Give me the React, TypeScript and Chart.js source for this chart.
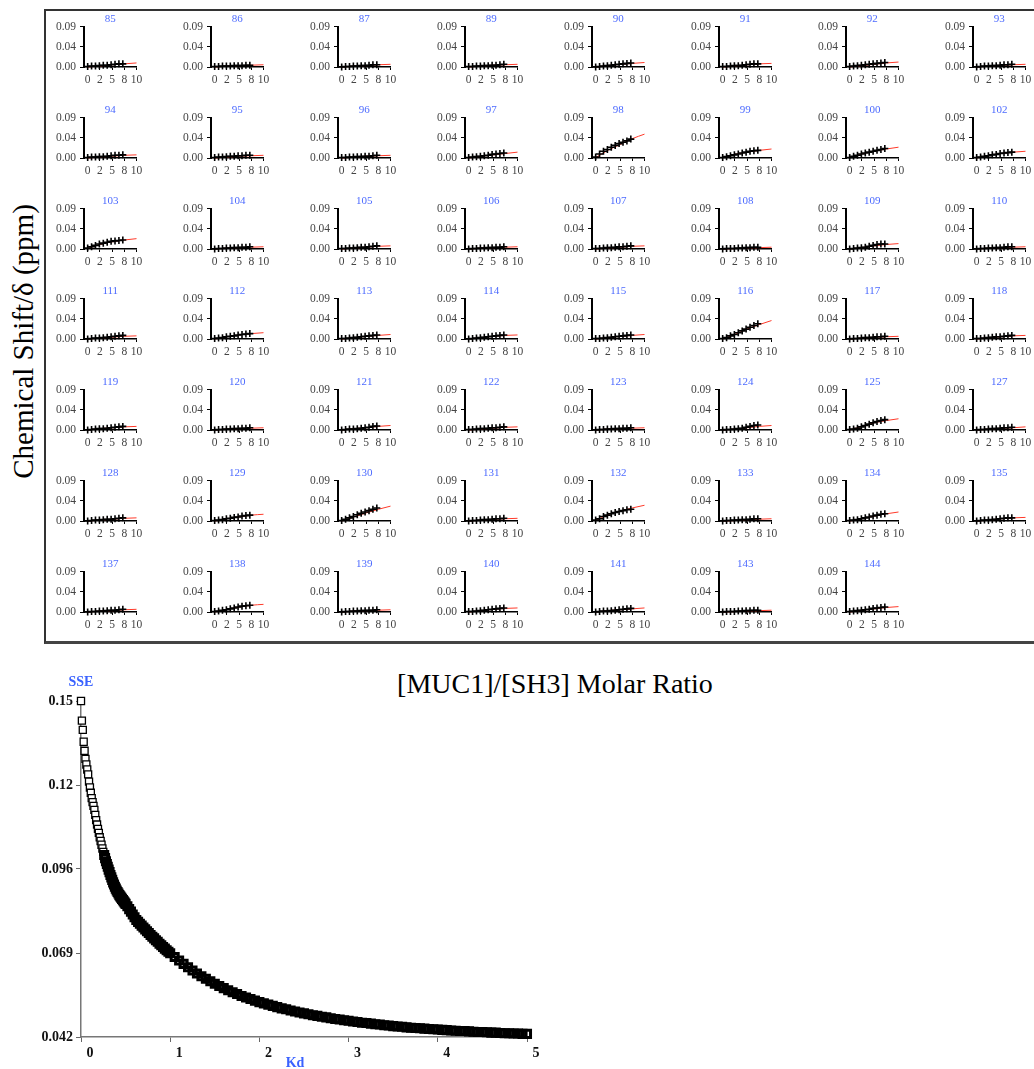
import React, { useEffect, useRef } from 'react';
import { Chart, registerables } from 'chart.js';

Chart.register(...registerables);

const SERIF = '"Liberation Serif", "Times New Roman", serif';
const LABEL_BLUE = '#4d6bff';

// [MUC1]/[SH3] molar ratio of each titration point
const molarRatio = [0, 0.8, 1.6, 2.4, 3.2, 4.0, 4.8, 5.6, 6.4, 7.2];
// abscissae of the fitted binding curves
const fitRatio = [0, 2.5, 5, 7.5, 10];

const ratioTicks = [0, 2.5, 5, 7.5, 10];
const ratioTickLabels = ['0', '2', '5', '8', '10'];
const shiftTicks = [0, 0.045, 0.09];
const shiftTickLabels = ['0.00', '0.04', '0.09'];

// observed chemical shift changes (ppm) and fitted curves, per residue
const obs85 = [0.001, 0.002, 0.002, 0.003, 0.004, 0.004, 0.005, 0.006, 0.007, 0.007];
const fit85 = [0, 0.002, 0.005, 0.007, 0.009];
const obs86 = [0.001, 0.001, 0.002, 0.002, 0.002, 0.003, 0.003, 0.003, 0.004, 0.004];
const fit86 = [0, 0.002, 0.003, 0.004, 0.005];
const obs87 = [0.0, 0.001, 0.001, 0.002, 0.002, 0.003, 0.003, 0.004, 0.005, 0.005];
const fit87 = [0, 0.002, 0.003, 0.005, 0.006];
const obs89 = [0.001, 0.001, 0.002, 0.002, 0.003, 0.003, 0.004, 0.004, 0.005, 0.006];
const fit89 = [0, 0.002, 0.004, 0.005, 0.006];
const obs90 = [0.0, 0.001, 0.002, 0.003, 0.004, 0.005, 0.006, 0.007, 0.008, 0.009];
const fit90 = [0, 0.003, 0.006, 0.008, 0.01];
const obs91 = [0.001, 0.001, 0.002, 0.003, 0.003, 0.004, 0.005, 0.006, 0.007, 0.007];
const fit91 = [0, 0.002, 0.005, 0.007, 0.008];
const obs92 = [0.001, 0.002, 0.003, 0.004, 0.005, 0.006, 0.007, 0.008, 0.009, 0.01];
const fit92 = [0, 0.003, 0.006, 0.009, 0.011];
const obs93 = [0.0, 0.001, 0.002, 0.002, 0.003, 0.003, 0.004, 0.005, 0.005, 0.006];
const fit93 = [0, 0.002, 0.004, 0.005, 0.006];
const obs94 = [0.001, 0.002, 0.002, 0.003, 0.003, 0.004, 0.005, 0.006, 0.006, 0.007];
const fit94 = [0, 0.002, 0.004, 0.006, 0.007];
const obs95 = [0.001, 0.002, 0.002, 0.003, 0.004, 0.004, 0.005, 0.005, 0.006, 0.006];
const fit95 = [0, 0.002, 0.004, 0.005, 0.006];
const obs96 = [0.001, 0.001, 0.002, 0.002, 0.003, 0.003, 0.004, 0.004, 0.005, 0.006];
const fit96 = [0, 0.002, 0.004, 0.005, 0.006];
const obs97 = [0.001, 0.002, 0.003, 0.004, 0.005, 0.006, 0.008, 0.009, 0.01, 0.011];
const fit97 = [0, 0.004, 0.007, 0.01, 0.013];
const obs98 = [0.002, 0.009, 0.015, 0.019, 0.024, 0.028, 0.032, 0.035, 0.038, 0.042];
const fit98 = [0.001, 0.017, 0.03, 0.043, 0.053];
const obs99 = [0.001, 0.003, 0.005, 0.007, 0.009, 0.011, 0.013, 0.015, 0.016, 0.017];
const fit99 = [0.001, 0.008, 0.013, 0.017, 0.02];
const obs100 = [0.001, 0.004, 0.006, 0.009, 0.011, 0.013, 0.015, 0.017, 0.019, 0.021];
const fit100 = [0.001, 0.009, 0.015, 0.02, 0.024];
const obs102 = [0.001, 0.002, 0.004, 0.005, 0.007, 0.008, 0.01, 0.011, 0.012, 0.013];
const fit102 = [0, 0.006, 0.01, 0.013, 0.015];
const obs103 = [0.002, 0.005, 0.008, 0.011, 0.013, 0.015, 0.017, 0.018, 0.019, 0.02];
const fit103 = [0.001, 0.01, 0.016, 0.02, 0.023];
const obs104 = [0.0, 0.001, 0.001, 0.002, 0.002, 0.003, 0.003, 0.004, 0.004, 0.005];
const fit104 = [0, 0.002, 0.003, 0.004, 0.005];
const obs105 = [0.001, 0.001, 0.002, 0.002, 0.003, 0.004, 0.004, 0.005, 0.006, 0.007];
const fit105 = [0, 0.002, 0.004, 0.006, 0.007];
const obs106 = [0.0, 0.001, 0.001, 0.002, 0.002, 0.003, 0.003, 0.004, 0.004, 0.005];
const fit106 = [0, 0.002, 0.003, 0.004, 0.005];
const obs107 = [0.001, 0.001, 0.002, 0.003, 0.003, 0.004, 0.005, 0.005, 0.006, 0.007];
const fit107 = [0, 0.002, 0.004, 0.006, 0.007];
const obs108 = [0.0, 0.001, 0.001, 0.001, 0.002, 0.002, 0.003, 0.003, 0.004, 0.004];
const fit108 = [0, 0.001, 0.002, 0.003, 0.004];
const obs109 = [0.0, 0.001, 0.002, 0.003, 0.004, 0.006, 0.008, 0.01, 0.011, 0.011];
const fit109 = [0, 0.003, 0.007, 0.01, 0.012];
const obs110 = [0.0, 0.001, 0.001, 0.002, 0.002, 0.003, 0.003, 0.004, 0.005, 0.005];
const fit110 = [0, 0.002, 0.003, 0.004, 0.005];
const obs111 = [0.0, 0.001, 0.002, 0.002, 0.003, 0.004, 0.005, 0.006, 0.007, 0.008];
const fit111 = [0, 0.002, 0.004, 0.006, 0.007];
const obs112 = [0.001, 0.002, 0.003, 0.005, 0.006, 0.007, 0.009, 0.01, 0.011, 0.012];
const fit112 = [0, 0.005, 0.009, 0.012, 0.014];
const obs113 = [0.001, 0.001, 0.002, 0.003, 0.004, 0.005, 0.006, 0.007, 0.008, 0.009];
const fit113 = [0, 0.003, 0.006, 0.008, 0.01];
const obs114 = [0.0, 0.001, 0.002, 0.003, 0.004, 0.005, 0.006, 0.007, 0.008, 0.009];
const fit114 = [0, 0.003, 0.006, 0.008, 0.009];
const obs115 = [0.001, 0.001, 0.002, 0.003, 0.004, 0.005, 0.006, 0.007, 0.008, 0.009];
const fit115 = [0, 0.003, 0.006, 0.008, 0.01];
const obs116 = [0.001, 0.003, 0.007, 0.01, 0.014, 0.018, 0.022, 0.026, 0.03, 0.034];
const fit116 = [0, 0.01, 0.022, 0.032, 0.041];
const obs117 = [0.0, 0.001, 0.001, 0.002, 0.003, 0.003, 0.004, 0.005, 0.005, 0.006];
const fit117 = [0, 0.002, 0.004, 0.005, 0.006];
const obs118 = [0.001, 0.001, 0.002, 0.003, 0.004, 0.005, 0.005, 0.006, 0.007, 0.008];
const fit118 = [0, 0.003, 0.005, 0.007, 0.008];
const obs119 = [0.0, 0.001, 0.002, 0.003, 0.003, 0.004, 0.005, 0.006, 0.007, 0.008];
const fit119 = [0, 0.003, 0.005, 0.007, 0.008];
const obs120 = [0.0, 0.001, 0.001, 0.002, 0.002, 0.003, 0.003, 0.004, 0.004, 0.005];
const fit120 = [0, 0.002, 0.003, 0.004, 0.005];
const obs121 = [0.0, 0.001, 0.002, 0.002, 0.003, 0.004, 0.005, 0.006, 0.008, 0.009];
const fit121 = [0, 0.003, 0.005, 0.008, 0.01];
const obs122 = [0.001, 0.001, 0.002, 0.003, 0.003, 0.004, 0.005, 0.005, 0.006, 0.007];
const fit122 = [0, 0.002, 0.004, 0.006, 0.007];
const obs123 = [0.0, 0.001, 0.001, 0.002, 0.002, 0.003, 0.003, 0.004, 0.004, 0.005];
const fit123 = [0, 0.002, 0.003, 0.004, 0.005];
const obs124 = [0.0, 0.001, 0.001, 0.002, 0.003, 0.004, 0.006, 0.008, 0.01, 0.011];
const fit124 = [0, 0.002, 0.005, 0.008, 0.01];
const obs125 = [0.001, 0.002, 0.004, 0.007, 0.01, 0.013, 0.016, 0.019, 0.021, 0.023];
const fit125 = [0, 0.008, 0.016, 0.021, 0.025];
const obs127 = [0.0, 0.001, 0.001, 0.002, 0.003, 0.003, 0.004, 0.005, 0.005, 0.006];
const fit127 = [0, 0.002, 0.004, 0.005, 0.007];
const obs128 = [0.0, 0.001, 0.002, 0.002, 0.003, 0.004, 0.004, 0.005, 0.006, 0.007];
const fit128 = [0, 0.002, 0.004, 0.006, 0.007];
const obs129 = [0.001, 0.002, 0.003, 0.005, 0.006, 0.008, 0.009, 0.011, 0.012, 0.013];
const fit129 = [0, 0.005, 0.009, 0.013, 0.015];
const obs130 = [0.001, 0.004, 0.007, 0.01, 0.014, 0.017, 0.02, 0.023, 0.026, 0.029];
const fit130 = [0, 0.009, 0.018, 0.026, 0.033];
const obs131 = [0.0, 0.001, 0.001, 0.002, 0.003, 0.003, 0.004, 0.005, 0.005, 0.006];
const fit131 = [0, 0.002, 0.004, 0.005, 0.006];
const obs132 = [0.002, 0.005, 0.01, 0.013, 0.016, 0.019, 0.021, 0.023, 0.025, 0.026];
const fit132 = [0.001, 0.014, 0.022, 0.029, 0.035];
const obs133 = [0.0, 0.001, 0.001, 0.002, 0.002, 0.003, 0.003, 0.004, 0.005, 0.005];
const fit133 = [0, 0.001, 0.003, 0.004, 0.005];
const obs134 = [0.001, 0.002, 0.003, 0.005, 0.007, 0.009, 0.011, 0.013, 0.015, 0.016];
const fit134 = [0, 0.005, 0.011, 0.016, 0.02];
const obs135 = [0.0, 0.001, 0.002, 0.002, 0.003, 0.004, 0.005, 0.006, 0.007, 0.007];
const fit135 = [0, 0.002, 0.005, 0.007, 0.008];
const obs137 = [0.0, 0.001, 0.001, 0.002, 0.002, 0.003, 0.004, 0.004, 0.005, 0.006];
const fit137 = [0, 0.002, 0.003, 0.005, 0.006];
const obs138 = [0.001, 0.002, 0.004, 0.005, 0.007, 0.009, 0.011, 0.013, 0.014, 0.015];
const fit138 = [0, 0.006, 0.011, 0.015, 0.017];
const obs139 = [0.0, 0.001, 0.001, 0.002, 0.002, 0.003, 0.003, 0.004, 0.004, 0.005];
const fit139 = [0, 0.002, 0.003, 0.004, 0.005];
const obs140 = [0.001, 0.001, 0.002, 0.003, 0.004, 0.005, 0.006, 0.007, 0.008, 0.009];
const fit140 = [0, 0.003, 0.006, 0.008, 0.009];
const obs141 = [0.0, 0.001, 0.002, 0.002, 0.003, 0.004, 0.005, 0.006, 0.007, 0.008];
const fit141 = [0, 0.003, 0.005, 0.007, 0.009];
const obs143 = [0.0, 0.001, 0.001, 0.001, 0.002, 0.002, 0.003, 0.003, 0.004, 0.004];
const fit143 = [0, 0.001, 0.002, 0.003, 0.004];
const obs144 = [0.001, 0.002, 0.003, 0.004, 0.005, 0.006, 0.008, 0.009, 0.01, 0.011];
const fit144 = [0, 0.004, 0.007, 0.01, 0.012];

// residues shown in each row of the grid
const residueRows = [
  ['85', '86', '87', '89', '90', '91', '92', '93'],
  ['94', '95', '96', '97', '98', '99', '100', '102'],
  ['103', '104', '105', '106', '107', '108', '109', '110'],
  ['111', '112', '113', '114', '115', '116', '117', '118'],
  ['119', '120', '121', '122', '123', '124', '125', '127'],
  ['128', '129', '130', '131', '132', '133', '134', '135'],
  ['137', '138', '139', '140', '141', '143', '144'],
];

const shiftData: Record<string, [number[], number[]]> = {
  '85': [obs85, fit85], '86': [obs86, fit86], '87': [obs87, fit87], '89': [obs89, fit89],
  '90': [obs90, fit90], '91': [obs91, fit91], '92': [obs92, fit92], '93': [obs93, fit93],
  '94': [obs94, fit94], '95': [obs95, fit95], '96': [obs96, fit96], '97': [obs97, fit97],
  '98': [obs98, fit98], '99': [obs99, fit99], '100': [obs100, fit100], '102': [obs102, fit102],
  '103': [obs103, fit103], '104': [obs104, fit104], '105': [obs105, fit105], '106': [obs106, fit106],
  '107': [obs107, fit107], '108': [obs108, fit108], '109': [obs109, fit109], '110': [obs110, fit110],
  '111': [obs111, fit111], '112': [obs112, fit112], '113': [obs113, fit113], '114': [obs114, fit114],
  '115': [obs115, fit115], '116': [obs116, fit116], '117': [obs117, fit117], '118': [obs118, fit118],
  '119': [obs119, fit119], '120': [obs120, fit120], '121': [obs121, fit121], '122': [obs122, fit122],
  '123': [obs123, fit123], '124': [obs124, fit124], '125': [obs125, fit125], '127': [obs127, fit127],
  '128': [obs128, fit128], '129': [obs129, fit129], '130': [obs130, fit130], '131': [obs131, fit131],
  '132': [obs132, fit132], '133': [obs133, fit133], '134': [obs134, fit134], '135': [obs135, fit135],
  '137': [obs137, fit137], '138': [obs138, fit138], '139': [obs139, fit139], '140': [obs140, fit140],
  '141': [obs141, fit141], '143': [obs143, fit143], '144': [obs144, fit144],
};

// Kd sweep: sum of squared errors of the global fit
const steps = (start: number, step: number, n: number) =>
  Array.from({ length: n }, (_, i) => +(start + i * step).toFixed(2));
const kdFine = steps(0, 0.01, 51);
const sseFine = [
  0.15, 0.1437, 0.1407, 0.1369, 0.134, 0.1314, 0.1296, 0.128, 0.1264, 0.1241, 0.1222,
  0.1205, 0.1188, 0.1175, 0.1163, 0.115, 0.1134, 0.1117, 0.1103, 0.1089, 0.1076,
  0.1062, 0.105, 0.1038, 0.1026, 0.1015, 0.1005, 0.0995, 0.0985, 0.0976, 0.0967,
  0.0958, 0.095, 0.0941, 0.0933, 0.0925, 0.0917, 0.091, 0.0903, 0.0897, 0.0891,
  0.0886, 0.0881, 0.0876, 0.0872, 0.0868, 0.0864, 0.086, 0.0856, 0.0852, 0.0848,
];
const kdMid = steps(0.52, 0.02, 25);
const sseMid = [
  0.084, 0.0831, 0.0823, 0.0814, 0.0805, 0.0796, 0.079, 0.0784, 0.0778, 0.0772,
  0.0766, 0.076, 0.0754, 0.0748, 0.0742, 0.0737, 0.0731, 0.0726, 0.072, 0.0715,
  0.0709, 0.0704, 0.0699, 0.0694, 0.0689,
];
const kdCoarse = steps(1.05, 0.05, 80);
const sseCoarse = [
  0.0677, 0.0666, 0.0655, 0.0644, 0.0634, 0.0624, 0.0615, 0.0607, 0.0599, 0.0591,
  0.0584, 0.0577, 0.057, 0.0564, 0.0558, 0.0552, 0.0547, 0.0542, 0.0537, 0.0532,
  0.0528, 0.0524, 0.052, 0.0516, 0.0512, 0.0509, 0.0505, 0.0502, 0.0499, 0.0496,
  0.0493, 0.049, 0.0488, 0.0485, 0.0483, 0.048, 0.0478, 0.0476, 0.0474, 0.0472,
  0.047, 0.0468, 0.0466, 0.0465, 0.0463, 0.0461, 0.046, 0.0458, 0.0457, 0.0455,
  0.0454, 0.0453, 0.0451, 0.045, 0.0449, 0.0448, 0.0447, 0.0446, 0.0445, 0.0444,
  0.0443, 0.0442, 0.0441, 0.044, 0.0439, 0.0439, 0.0438, 0.0437, 0.0436, 0.0436,
  0.0435, 0.0434, 0.0434, 0.0433, 0.0432, 0.0432, 0.0431, 0.0431, 0.043, 0.043,
];
const kdTicks = [0, 1, 2, 3, 4, 5];
const sseTicks = [0.042, 0.069, 0.096, 0.123, 0.15];
const sseTickLabels = ['0.042', '0.069', '0.096', '0.12', '0.15'];

// ---------- layout of the panel grid ----------
const PANEL_W = 118;
const PANEL_H = 88;
const AXIS_LEFT = 40; // y axis position inside a panel canvas
const AXIS_BOTTOM = 55; // x axis position inside a panel canvas
const colAxisX = (c: number) => 84.3 + 127 * c;
const rowBaseY = (r: number) => 66.7 + 90.93 * r;

const labelFor = (values: number[], labels: string[]) => (v: number | string) => {
  const i = values.findIndex((t) => Math.abs(t - Number(v)) < 1e-9);
  return i >= 0 ? labels[i] : '';
};

const textPlugin = (id: string, draw: (chart: Chart) => void) => ({
  id,
  afterDraw(chart: Chart) {
    const ctx = chart.ctx;
    ctx.save();
    draw(chart);
    ctx.restore();
  },
});

function ShiftPanel({ residue, left, top }: { residue: string; left: number; top: number }) {
  const ref = useRef<HTMLCanvasElement>(null);
  useEffect(() => {
    const [obs, fit] = shiftData[residue];
    const tickFont = { family: SERIF, size: 11.5 };
    const chart = new Chart(ref.current!, {
      type: 'scatter',
      data: {
        datasets: [
          {
            type: 'line',
            data: fitRatio.map((x, i) => ({ x, y: fit[i] })),
            showLine: true,
            borderColor: '#ff3a2a',
            borderWidth: 1,
            pointRadius: 0,
            cubicInterpolationMode: 'monotone',
            clip: false,
            order: 2,
          } as any,
          {
            data: molarRatio.map((x, i) => ({ x, y: obs[i] })),
            pointStyle: 'cross',
            pointRadius: 3.5,
            borderColor: '#000',
            backgroundColor: '#000',
            borderWidth: 1.6,
            clip: false,
            order: 1,
          } as any,
        ],
      },
      options: {
        animation: false,
        responsive: false,
        events: [],
        layout: { padding: { top: 14.5, right: PANEL_W - AXIS_LEFT - 52.5, left: 0, bottom: 0 } },
        plugins: { legend: { display: false }, tooltip: { enabled: false } },
        scales: {
          x: {
            type: 'linear',
            min: -0.75,
            max: 10,
            afterBuildTicks: (s: any) => {
              s.ticks = ratioTicks.map((value) => ({ value }));
            },
            afterFit: (s: any) => {
              s.height = PANEL_H - AXIS_BOTTOM;
            },
            ticks: {
              callback: labelFor(ratioTicks, ratioTickLabels),
              font: tickFont,
              color: '#444',
              padding: 3,
              maxRotation: 0,
              autoSkip: false,
            },
            grid: { drawOnChartArea: false, tickLength: 3, color: '#000', lineWidth: 1 },
            border: { color: '#000', width: 1.5 },
          },
          y: {
            type: 'linear',
            min: 0,
            max: 0.09,
            afterBuildTicks: (s: any) => {
              s.ticks = shiftTicks.map((value) => ({ value }));
            },
            afterFit: (s: any) => {
              s.width = AXIS_LEFT;
            },
            ticks: {
              callback: labelFor(shiftTicks, shiftTickLabels),
              font: tickFont,
              color: '#444',
              padding: 4,
              autoSkip: false,
            },
            grid: { drawOnChartArea: false, tickLength: 4, color: '#000', lineWidth: 1 },
            border: { color: '#000', width: 2 },
          },
        },
      } as any,
      plugins: [
        textPlugin('residueLabel', (c) => {
          const { ctx, chartArea } = c;
          ctx.font = `11px ${SERIF}`;
          ctx.fillStyle = LABEL_BLUE;
          ctx.textAlign = 'center';
          ctx.textBaseline = 'middle';
          ctx.fillText(residue, (chartArea.left + chartArea.right) / 2, chartArea.top - 7);
        }),
      ],
    });
    return () => chart.destroy();
  }, [residue]);
  return (
    <canvas
      ref={ref}
      width={PANEL_W}
      height={PANEL_H}
      style={{ position: 'absolute', left, top, width: PANEL_W, height: PANEL_H }}
    />
  );
}

function SsePlot() {
  const ref = useRef<HTMLCanvasElement>(null);
  useEffect(() => {
    const tickFont = { family: SERIF, size: 14, weight: 'bold' };
    const square = {
      pointStyle: 'rect',
      pointRadius: 5,
      borderColor: '#000',
      showLine: false,
      clip: false,
    };
    // steep head of the sweep: open squares; the dense tail merges into a solid band
    const head = 26;
    const tailKd = [...kdFine.slice(head), ...kdMid, ...kdCoarse];
    const tailSse = [...sseFine.slice(head), ...sseMid, ...sseCoarse];
    const chart = new Chart(ref.current!, {
      type: 'scatter',
      data: {
        datasets: [
          {
            ...square,
            data: kdFine.slice(0, head).map((x, i) => ({ x, y: sseFine[i] })),
            backgroundColor: '#fff',
            borderWidth: 1.3,
            order: 2,
          } as any,
          {
            ...square,
            data: tailKd.map((x, i) => ({ x, y: tailSse[i] })),
            backgroundColor: 'rgba(255,255,255,0)',
            borderWidth: 3,
            order: 1,
          } as any,
        ],
      },
      options: {
        animation: false,
        responsive: false,
        events: [],
        layout: { padding: { top: 36, right: 23, left: 0, bottom: 0 } },
        plugins: { legend: { display: false }, tooltip: { enabled: false } },
        scales: {
          x: {
            type: 'linear',
            min: 0,
            max: 5,
            afterBuildTicks: (s: any) => {
              s.ticks = kdTicks.map((value) => ({ value }));
            },
            afterFit: (s: any) => {
              s.height = 32;
            },
            ticks: {
              font: tickFont,
              color: '#111',
              padding: 3,
              labelOffset: 9,
              maxRotation: 0,
              autoSkip: false,
            },
            grid: { drawOnChartArea: false, tickLength: 5, color: '#666', lineWidth: 1 },
            border: { color: '#777', width: 1.5 },
          },
          y: {
            type: 'linear',
            min: 0.042,
            max: 0.15,
            afterBuildTicks: (s: any) => {
              s.ticks = sseTicks.map((value) => ({ value }));
            },
            afterFit: (s: any) => {
              s.width = 81;
            },
            ticks: {
              callback: labelFor(sseTicks, sseTickLabels),
              font: tickFont,
              color: '#111',
              padding: 3,
              autoSkip: false,
            },
            grid: { drawOnChartArea: false, tickLength: 5, color: '#666', lineWidth: 1 },
            border: { color: '#777', width: 1.5 },
          },
        },
      } as any,
      plugins: [
        textPlugin('axisNames', (c) => {
          const { ctx, chartArea } = c;
          ctx.font = `bold 14px ${SERIF}`;
          ctx.fillStyle = '#3a62ff';
          ctx.textAlign = 'center';
          ctx.textBaseline = 'middle';
          ctx.fillText('SSE', chartArea.left, chartArea.top - 19);
          ctx.fillText('Kd', 295, chartArea.bottom + 26);
        }),
      ],
    });
    return () => chart.destroy();
  }, []);
  return (
    <canvas
      ref={ref}
      width={550}
      height={404}
      style={{ position: 'absolute', left: 0, top: 665, width: 550, height: 404 }}
    />
  );
}

export default function App() {
  const panels: { residue: string; left: number; top: number }[] = [];
  residueRows.forEach((row, r) =>
    row.forEach((residue, c) =>
      panels.push({
        residue,
        left: Math.round(colAxisX(c) - AXIS_LEFT),
        top: Math.round(rowBaseY(r) - AXIS_BOTTOM),
      })
    )
  );

  return (
    <div
      style={{
        position: 'absolute',
        left: 0,
        top: 0,
        width: 1034,
        height: 1069,
        overflow: 'hidden',
        background: '#fff',
        fontFamily: SERIF,
      }}
    >
      <div
        style={{
          position: 'absolute',
          left: 44,
          top: 9,
          width: 1100,
          height: 630,
          borderTop: '2px solid #333',
          borderLeft: '2px solid #333',
          borderBottom: '3px solid #444',
        }}
      />
      {panels.map((p) => (
        <ShiftPanel key={p.residue} residue={p.residue} left={p.left} top={p.top} />
      ))}
      <div
        style={{
          position: 'absolute',
          left: 23 - 200,
          top: 341 - 14.5,
          width: 400,
          height: 29,
          lineHeight: '29px',
          fontSize: 29,
          textAlign: 'center',
          whiteSpace: 'nowrap',
          color: '#000',
          transform: 'rotate(-90deg)',
          transformOrigin: '50% 50%',
        }}
      >
        Chemical Shift/δ (ppm)
      </div>
      <div
        style={{
          position: 'absolute',
          left: 555 - 250,
          top: 684 - 14,
          width: 500,
          height: 28,
          lineHeight: '28px',
          fontSize: 28,
          textAlign: 'center',
          whiteSpace: 'nowrap',
          color: '#000',
        }}
      >
        [MUC1]/[SH3] Molar Ratio
      </div>
      <SsePlot />
    </div>
  );
}
